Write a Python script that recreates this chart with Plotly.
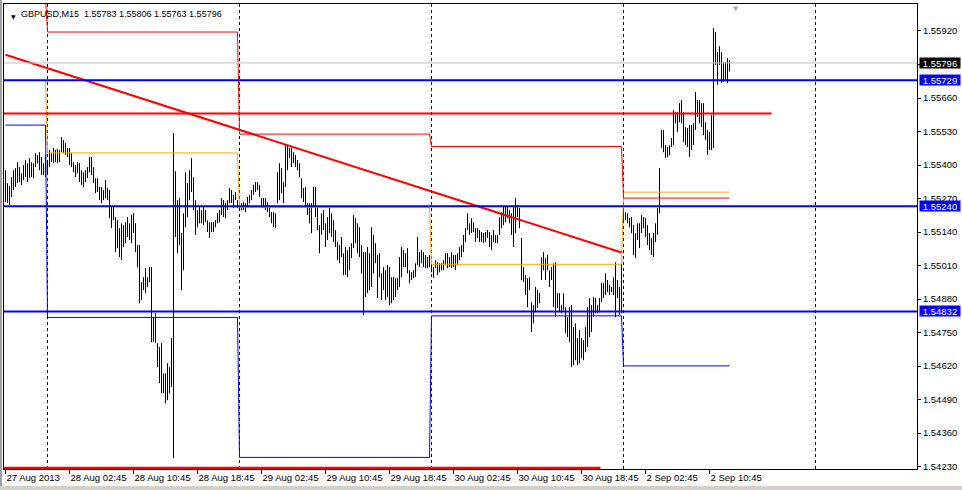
import plotly.graph_objects as go

# ---------------- data (GBPUSD M15, 27 Aug 2013 18:45 .. 2 Sep 2013 13:15) ----------------
bar_high = [
    1.55380, 1.55330, 1.55319, 1.55353, 1.55380, 1.55388, 1.55411, 1.55392, 1.55368, 1.55400,
    1.55419, 1.55407, 1.55427, 1.55411, 1.55407, 1.55446, 1.55439, 1.55450, 1.55431, 1.55407,
    1.55439, 1.55419, 1.55458, 1.55446, 1.55466, 1.55458, 1.55462, 1.55458, 1.55509, 1.55497,
    1.55485, 1.55466, 1.55466, 1.55446, 1.55411, 1.55400, 1.55411, 1.55407, 1.55380, 1.55372,
    1.55380, 1.55392, 1.55431, 1.55431, 1.55392, 1.55349, 1.55349, 1.55315, 1.55315, 1.55303,
    1.55342, 1.55311, 1.55303, 1.55237, 1.55237, 1.55198, 1.55186, 1.55155, 1.55174, 1.55167,
    1.55178, 1.55198, 1.55174, 1.55206, 1.55213, 1.55174, 1.55090, 1.55090, 1.54946, 1.54965,
    1.55000, 1.54965, 1.55004, 1.55004, 1.54810, 1.54825, 1.54709, 1.54694, 1.54709, 1.54592,
    1.54592, 1.54631, 1.54616, 1.54729, 1.55524, 1.55376, 1.55264, 1.55272, 1.55136, 1.55213,
    1.55372, 1.55330, 1.55380, 1.55427, 1.55353, 1.55264, 1.55225, 1.55237, 1.55225, 1.55237,
    1.55225, 1.55186, 1.55178, 1.55178, 1.55178, 1.55186, 1.55213, 1.55225, 1.55272, 1.55264,
    1.55252, 1.55264, 1.55311, 1.55303, 1.55284, 1.55295, 1.55264, 1.55252, 1.55252, 1.55256,
    1.55252, 1.55276, 1.55284, 1.55303, 1.55323, 1.55334, 1.55334, 1.55323, 1.55272, 1.55272,
    1.55272, 1.55256, 1.55237, 1.55217, 1.55217, 1.55213, 1.55372, 1.55407, 1.55388, 1.55334,
    1.55478, 1.55478, 1.55466, 1.55466, 1.55450, 1.55439, 1.55419, 1.55407, 1.55349, 1.55311,
    1.55315, 1.55252, 1.55252, 1.55252, 1.55315, 1.55315, 1.55237, 1.55167, 1.55213, 1.55225,
    1.55174, 1.55198, 1.55233, 1.55213, 1.55186, 1.55148, 1.55101, 1.55090, 1.55121, 1.55058,
    1.55082, 1.55070, 1.55082, 1.55097, 1.55206, 1.55194, 1.55174, 1.55159, 1.55090, 1.55062,
    1.55062, 1.55082, 1.55058, 1.55159, 1.55129, 1.55097, 1.55051, 1.55058, 1.54980, 1.55004,
    1.54992, 1.55012, 1.55004, 1.54965, 1.54965, 1.54961, 1.54961, 1.55043, 1.55082, 1.55070,
    1.55058, 1.55078, 1.54992, 1.54984, 1.54992, 1.55019, 1.55121, 1.55062, 1.55070, 1.55062,
    1.55051, 1.55043, 1.55051, 1.55012, 1.55004, 1.55031, 1.55023, 1.55019, 1.55019, 1.55031,
    1.55058, 1.55058, 1.55043, 1.55062, 1.55051, 1.55051, 1.55058, 1.55082, 1.55090, 1.55129,
    1.55155, 1.55213, 1.55174, 1.55194, 1.55178, 1.55155, 1.55155, 1.55148, 1.55140, 1.55136,
    1.55140, 1.55148, 1.55140, 1.55129, 1.55148, 1.55129, 1.55129, 1.55198, 1.55217, 1.55237,
    1.55237, 1.55237, 1.55225, 1.55213, 1.55237, 1.55272, 1.55245, 1.55233, 1.55117, 1.55004,
    1.54973, 1.54961, 1.54965, 1.54868, 1.54857, 1.54927, 1.54915, 1.54903, 1.55043, 1.55062,
    1.55039, 1.55051, 1.54992, 1.55004, 1.55019, 1.55023, 1.54903, 1.54903, 1.54857, 1.54903,
    1.54849, 1.54810, 1.54849, 1.54857, 1.54771, 1.54786, 1.54729, 1.54760, 1.54729, 1.54721,
    1.54771, 1.54849, 1.54884, 1.54857, 1.54888, 1.54884, 1.54857, 1.54884, 1.54942, 1.54942,
    1.54980, 1.54954, 1.54935, 1.54927, 1.54965, 1.55023, 1.54954, 1.54927, 1.55019, 1.55225,
    1.55217, 1.55213, 1.55194, 1.55198, 1.55167, 1.55136, 1.55174, 1.55174, 1.55206, 1.55198,
    1.55194, 1.55167, 1.55136, 1.55117, 1.55136, 1.55174, 1.55233, 1.55388, 1.55536, 1.55536,
    1.55478, 1.55470, 1.55478, 1.55505, 1.55613, 1.55605, 1.55605, 1.55640, 1.55652, 1.55605,
    1.55547, 1.55543, 1.55555, 1.55555, 1.55562, 1.55683, 1.55652, 1.55652, 1.55640, 1.55640,
    1.55566, 1.55536, 1.55528, 1.55594, 1.55931, 1.55916, 1.55838, 1.55861, 1.55838, 1.55799,
    1.55799, 1.55815, 1.55806,
]
bar_low = [
    1.55256, 1.55252, 1.55245, 1.55276, 1.55303, 1.55315, 1.55330, 1.55334, 1.55323, 1.55342,
    1.55353, 1.55334, 1.55349, 1.55353, 1.55349, 1.55392, 1.55407, 1.55380, 1.55361, 1.55361,
    1.55353, 1.55368, 1.55392, 1.55411, 1.55407, 1.55411, 1.55407, 1.55411, 1.55450, 1.55446,
    1.55439, 1.55431, 1.55400, 1.55392, 1.55372, 1.55353, 1.55368, 1.55334, 1.55323, 1.55315,
    1.55334, 1.55349, 1.55372, 1.55361, 1.55330, 1.55291, 1.55295, 1.55264, 1.55252, 1.55264,
    1.55272, 1.55264, 1.55194, 1.55155, 1.55186, 1.55062, 1.55078, 1.55043, 1.55031, 1.55082,
    1.55097, 1.55121, 1.55109, 1.55097, 1.55136, 1.55062, 1.55004, 1.54864, 1.54876, 1.54915,
    1.54903, 1.54927, 1.54946, 1.54713, 1.54713, 1.54709, 1.54616, 1.54554, 1.54515, 1.54515,
    1.54476, 1.54488, 1.54515, 1.54539, 1.54263, 1.55121, 1.55058, 1.55090, 1.54915, 1.54992,
    1.55159, 1.55198, 1.55264, 1.55295, 1.55225, 1.55129, 1.55159, 1.55174, 1.55174, 1.55167,
    1.55178, 1.55140, 1.55117, 1.55140, 1.55140, 1.55159, 1.55174, 1.55178, 1.55206, 1.55198,
    1.55194, 1.55225, 1.55252, 1.55252, 1.55233, 1.55264, 1.55233, 1.55225, 1.55225, 1.55225,
    1.55217, 1.55237, 1.55252, 1.55264, 1.55284, 1.55295, 1.55303, 1.55276, 1.55237, 1.55233,
    1.55225, 1.55217, 1.55198, 1.55174, 1.55159, 1.55155, 1.55252, 1.55264, 1.55291, 1.55252,
    1.55315, 1.55380, 1.55427, 1.55392, 1.55407, 1.55392, 1.55380, 1.55353, 1.55272, 1.55256,
    1.55237, 1.55206, 1.55174, 1.55136, 1.55237, 1.55198, 1.55148, 1.55058, 1.55129, 1.55148,
    1.55082, 1.55109, 1.55136, 1.55121, 1.55101, 1.55082, 1.55031, 1.55019, 1.55043, 1.54973,
    1.54973, 1.54965, 1.54992, 1.55039, 1.55078, 1.55097, 1.55058, 1.55043, 1.54980, 1.54818,
    1.54888, 1.54903, 1.54915, 1.54927, 1.54980, 1.55019, 1.54884, 1.54965, 1.54876, 1.54915,
    1.54876, 1.54888, 1.54857, 1.54864, 1.54876, 1.54888, 1.54915, 1.54927, 1.54965, 1.55004,
    1.55004, 1.54980, 1.54942, 1.54954, 1.54961, 1.54965, 1.55012, 1.55004, 1.55019, 1.55004,
    1.55000, 1.55000, 1.55004, 1.54984, 1.54961, 1.55000, 1.54973, 1.54984, 1.54992, 1.54992,
    1.55012, 1.55000, 1.55004, 1.55000, 1.55004, 1.54992, 1.55012, 1.55031, 1.55043, 1.55062,
    1.55101, 1.55148, 1.55129, 1.55136, 1.55140, 1.55101, 1.55117, 1.55101, 1.55101, 1.55097,
    1.55101, 1.55117, 1.55082, 1.55070, 1.55101, 1.55097, 1.55097, 1.55129, 1.55155, 1.55167,
    1.55178, 1.55194, 1.55174, 1.55129, 1.55082, 1.55136, 1.55198, 1.55155, 1.54954, 1.54946,
    1.54896, 1.54849, 1.54915, 1.54752, 1.54786, 1.54829, 1.54845, 1.54864, 1.54954, 1.54992,
    1.54954, 1.54992, 1.54927, 1.54954, 1.54849, 1.54810, 1.54845, 1.54829, 1.54825, 1.54837,
    1.54748, 1.54733, 1.54713, 1.54616, 1.54624, 1.54643, 1.54624, 1.54631, 1.54651, 1.54643,
    1.54674, 1.54694, 1.54733, 1.54752, 1.54810, 1.54825, 1.54825, 1.54829, 1.54868, 1.54884,
    1.54896, 1.54907, 1.54896, 1.54907, 1.54896, 1.54810, 1.54884, 1.54818, 1.54825, 1.55174,
    1.55186, 1.55174, 1.55159, 1.55136, 1.55051, 1.55039, 1.55109, 1.55078, 1.55136, 1.55155,
    1.55121, 1.55090, 1.55070, 1.55051, 1.55043, 1.55101, 1.55129, 1.55213, 1.55466, 1.55450,
    1.55427, 1.55431, 1.55439, 1.55470, 1.55478, 1.55562, 1.55528, 1.55566, 1.55562, 1.55489,
    1.55478, 1.55470, 1.55431, 1.55458, 1.55478, 1.55536, 1.55586, 1.55562, 1.55547, 1.55516,
    1.55497, 1.55439, 1.55458, 1.55458, 1.55466, 1.55788, 1.55711, 1.55788, 1.55718, 1.55722,
    1.55730, 1.55718, 1.55763,
]

# daily segments (bar indices) and previous-day levels drawn by the indicator
day_first_bar = [0, 21, 117, 213, 309]
day_last_bar = [20, 116, 212, 308, 362]
prev_day_high = [1.56060, 1.55916, 1.55520, 1.55472, 1.55272]
prev_day_close = [1.55728, 1.55447, 1.55236, 1.55015, 1.55295]
prev_day_low = [1.55555, 1.54809, 1.54266, 1.54815, 1.54621]

# day separators (first bar of each day, incl. future 3 Sep)
separator_bars = [21, 117, 213, 309, 405]

# horizontal levels
blue_levels = [1.55729, 1.55240, 1.54832]
red_level = 1.55600
red_level_end_bar = 383
bottom_red_level = 1.54224
bottom_red_end_bar = 297.5
bid_price = 1.55796

# trend line
trend_bars = [0, 308]
trend_prices = [1.55828, 1.55061]

# axes
x_tick_bars = [0, 32, 64, 96, 128, 160, 192, 224, 256, 288, 320, 352]
x_tick_labels = ["27 Aug 2013", "28 Aug 02:45", "28 Aug 10:45", "28 Aug 18:45",
                 "29 Aug 02:45", "29 Aug 10:45", "29 Aug 18:45", "30 Aug 02:45",
                 "30 Aug 10:45", "30 Aug 18:45", "2 Sep 02:45", "2 Sep 10:45"]
y_tick_values = [1.54230, 1.54360, 1.54490, 1.54620, 1.54750, 1.54880, 1.55010,
                 1.55140, 1.55270, 1.55400, 1.55530, 1.55660, 1.55790, 1.55920]
x_range = [-0.75, 455.75]
y_range = [1.542210, 1.560247]
last_ohlc = [1.55783, 1.55806, 1.55763, 1.55796]
shift_marker_bar = 365

FONT = "Liberation Sans, Arial, sans-serif"

fig = go.Figure()

# OHLC bars as high-low sticks
bx, by = [], []
for i, (h, l) in enumerate(zip(bar_high, bar_low)):
    bx += [i, i, None]
    by += [l, h, None]
fig.add_trace(go.Scatter(x=bx, y=by, mode="lines",
                         line=dict(color="black", width=1), hoverinfo="skip"))


def step_line(levels):
    xs, ys = [], []
    for a, b, v in zip(day_first_bar, day_last_bar, levels):
        xs += [a, b]
        ys += [v, v]
    return xs, ys


for lv, col in [(prev_day_close, "#FFA500"), (prev_day_high, "#FF0000"), (prev_day_low, "#0000FF")]:
    xs, ys = step_line(lv)
    fig.add_trace(go.Scatter(x=xs, y=ys, mode="lines", line=dict(color=col, width=1),
                             hoverinfo="skip"))

# trend line
fig.add_trace(go.Scatter(x=trend_bars, y=trend_prices, mode="lines",
                         line=dict(color="#FF0000", width=2), hoverinfo="skip"))

shapes = []
for sb in separator_bars:
    shapes.append(dict(type="line", xref="x", yref="paper", x0=sb, x1=sb, y0=0, y1=1,
                       line=dict(color="black", width=1, dash="3px,3px"), layer="below"))
# bid line
shapes.append(dict(type="line", xref="paper", yref="y", x0=0, x1=1, y0=bid_price, y1=bid_price,
                   line=dict(color="#C0C0C0", width=1)))
for lv in blue_levels:
    shapes.append(dict(type="line", xref="paper", yref="y", x0=0, x1=1, y0=lv, y1=lv,
                       line=dict(color="#0000FF", width=2)))
shapes.append(dict(type="line", xref="x", yref="y", x0=x_range[0], x1=red_level_end_bar,
                   y0=red_level, y1=red_level, line=dict(color="#FF0000", width=2)))
shapes.append(dict(type="line", xref="x", yref="y", x0=x_range[0], x1=bottom_red_end_bar,
                   y0=bottom_red_level, y1=bottom_red_level, line=dict(color="#FF0000", width=3)))
# window frame strips (left edge and bottom edge of the terminal window)
shapes.append(dict(type="rect", xref="paper", yref="paper", x0=-4 / 913, x1=-2 / 913,
                   y0=-21 / 465, y1=1 + 4 / 465, line=dict(width=0), fillcolor="#A0A0A0"))
shapes.append(dict(type="rect", xref="paper", yref="paper", x0=-4 / 913, x1=1 + 45 / 913,
                   y0=-21 / 465, y1=-17 / 465, line=dict(width=0), fillcolor="#D4D0C8"))

annotations = []
# right-axis price boxes
for price, bg in [(bid_price, "black")] + [(lv, "#0000FF") for lv in blue_levels]:
    annotations.append(dict(xref="paper", yref="y", x=1, y=price, xanchor="left", yanchor="middle",
                            xshift=2, text=f"{price:.5f}", showarrow=False,
                            font=dict(family=FONT, size=9.5, color="white"),
                            bgcolor=bg, width=40, height=10, borderpad=0, align="center"))
# header
annotations.append(dict(xref="paper", yref="paper", x=0, y=1, xanchor="left", yanchor="top",
                        xshift=5, yshift=-7, text="▼", showarrow=False,
                        font=dict(family="DejaVu Sans", size=6, color="black")))
annotations.append(dict(xref="paper", yref="paper", x=0, y=1, xanchor="left", yanchor="top",
                        xshift=15, yshift=-3,
                        text="GBPUSD,M15\u00a0 " + " ".join(f"{v:.5f}" for v in last_ohlc),
                        showarrow=False, font=dict(family=FONT, size=9, color="black")))
# chart-shift marker
annotations.append(dict(xref="x", yref="paper", x=shift_marker_bar, y=1, xanchor="center",
                        yanchor="top", yshift=1, text="▼", showarrow=False,
                        font=dict(family="DejaVu Sans", size=7, color="#B0B0B0")))

fig.update_layout(
    width=962, height=490,
    margin=dict(l=4, r=45, t=4, b=21, pad=0, autoexpand=False),
    plot_bgcolor="white", paper_bgcolor="white",
    showlegend=False, hovermode=False,
    shapes=shapes, annotations=annotations,
    font=dict(family=FONT, size=9.5, color="black"),
)
fig.update_xaxes(range=x_range, showgrid=False, zeroline=False, showline=True, mirror=True,
                 linecolor="black", linewidth=1, ticks="outside", ticklen=4, tickcolor="black",
                 tickvals=x_tick_bars, ticktext=x_tick_labels, ticklabelposition="outside right",
                 tickangle=0, automargin=False,
                 tickfont=dict(family=FONT, size=9.5, color="black"))
fig.update_yaxes(range=y_range, side="right", showgrid=False, zeroline=False, showline=True,
                 mirror=True, linecolor="black", linewidth=1, ticks="outside", ticklen=3,
                 tickcolor="black", tickvals=y_tick_values, automargin=False,
                 ticktext=[f"{v:.5f}" for v in y_tick_values],
                 tickfont=dict(family=FONT, size=9.5, color="black"))

fig.write_html("out.html", config={"displayModeBar": False},
               post_script="document.body.style.margin='0';document.body.style.overflow='hidden';")
